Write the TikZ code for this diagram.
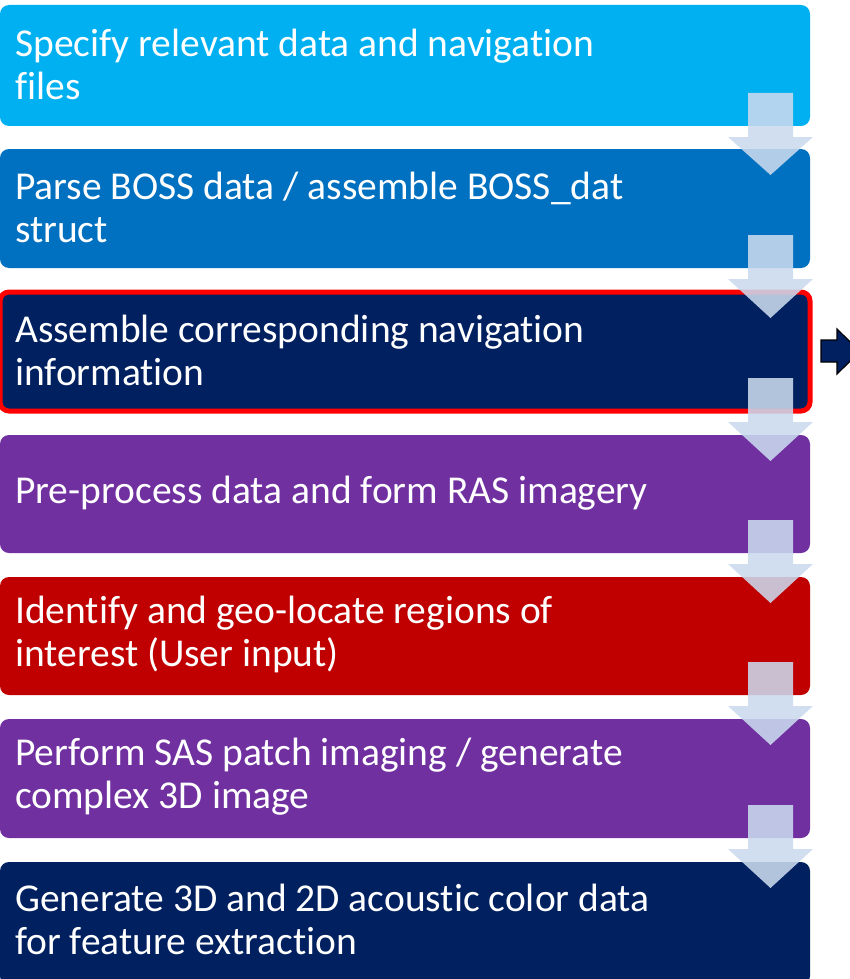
\documentclass[tikz,border=0pt]{standalone}
\usepackage{fontspec}
\setmainfont{Carlito}[Ligatures=NoCommon]
\definecolor{cLight}{HTML}{00B0F0}
\definecolor{cBlue}{HTML}{0070C0}
\definecolor{cNavy}{HTML}{002060}
\definecolor{cPurple}{HTML}{7030A0}
\definecolor{cRed}{HTML}{C00000}
\definecolor{cArrow}{RGB}{203,218,238}
\begin{document}
\begin{tikzpicture}[x=1pt,y=-1pt,
  stepbox/.style={rounded corners=9pt},
  steptext/.style={anchor=west,text=white,align=left,inner sep=0pt,
    font=\fontsize{39.5}{43}\selectfont},
  flowarrow/.style={fill=cArrow,fill opacity=0.88,draw=none}]
\useasboundingbox (0,0) rectangle (850,979);
\clip (0,0) rectangle (850,979);
% boxes
\foreach \t/\b/\c in {5/126/cLight,149/268/cBlue,292/411/cNavy,435/553/cPurple,577/695/cRed,719/838/cPurple,862/985/cNavy}{
  \fill[stepbox,fill=\c] (0,\t) rectangle (810,\b);
}
\draw[stepbox,draw=red,line width=5pt] (0,292) rectangle (810,411);
% texts
\node[steptext] (s1) at (15,64) {Specify relevant data and navigation\\files};
\node[steptext] (s2) at (15,207) {Parse BOSS data / assemble BOSS\_dat\\struct};
\node[steptext] (s3) at (15,350) {Assemble corresponding navigation\\information};
\node[steptext] (s4) at (15,493) {Pre-process data and form RAS imagery};
\node[steptext] (s5) at (15,634.5) {Identify and geo-locate regions of\\interest (User input)};
\node[steptext] (s6) at (15,777) {Perform SAS patch imaging / generate\\complex 3D image};
\node[steptext] (s7) at (15,919) {Generate 3D and 2D acoustic color data\\for feature extraction};
% down arrows between boxes
\foreach \b/\nt in {126/149,268/292,411/435,553/577,695/719,838/862}{
  \fill[flowarrow] (748,{\b-33}) -- (793,{\b-33}) -- (793,{\b+11}) -- (813,{\b+11})
     -- (770.5,{\nt+26}) -- (728,{\b+11}) -- (748,{\b+11}) -- cycle;
}
% small arrow to the right of box 3
\draw[fill=cNavy,draw=black,line width=1.2pt] (821,340) -- (837,340) -- (837,329) -- (860,351.5)
  -- (837,374) -- (837,362) -- (821,362) -- cycle;
\end{tikzpicture}
\end{document}
